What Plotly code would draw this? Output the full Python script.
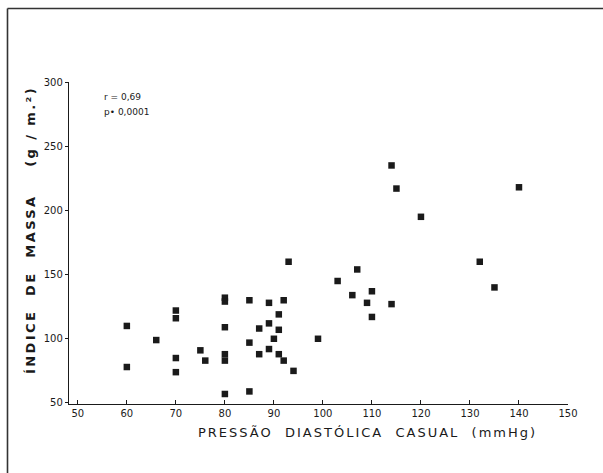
import plotly.graph_objects as go

# Data (Pressão diastólica casual x Índice de massa)
pressao = [60, 60, 66, 70, 70, 70, 70, 75, 76, 80, 80, 80, 80, 80, 80,
           85, 85, 85, 87, 87, 89, 89, 89, 90, 91, 91, 91, 92, 92, 93,
           94, 99, 103, 106, 107, 109, 110, 110, 114, 114, 115, 120, 132, 135, 140]
indice = [110, 78, 99, 122, 116, 85, 74, 91, 83, 132, 129, 109, 88, 83, 57,
          130, 97, 59, 108, 88, 128, 112, 92, 100, 119, 107, 88, 83, 130, 160,
          75, 100, 145, 134, 154, 128, 137, 117, 127, 235, 217, 195, 160, 140, 218]

x_ticks = [50, 60, 70, 80, 90, 100, 110, 120, 130, 140, 150]
y_ticks = [50, 100, 150, 200, 250, 300]

W, H = 603, 473
L, R, T, B = 69, 35, 82, 69
PW, PH = W - L - R, H - T - B

def pxx(p):
    return (p - L) / PW

def pxy(q):
    return (H - B - q) / PH

ink = "#1a1a1a"
font = "DejaVu Sans"

fig = go.Figure()
fig.add_trace(go.Scatter(
    x=pressao, y=indice, mode="markers",
    marker=dict(symbol="square", size=6.5, color=ink, line=dict(width=0)),
    showlegend=False, hoverinfo="skip",
))

fig.update_layout(
    width=W, height=H, autosize=False,
    margin=dict(l=L, r=R, t=T, b=B, pad=0),
    paper_bgcolor="white", plot_bgcolor="white",
    font=dict(family=font, color=ink),
    xaxis=dict(
        range=[48.2, 150], tickvals=x_ticks, ticktext=[str(v) for v in x_ticks],
        showline=True, linecolor=ink, linewidth=1.3,
        ticks="inside", ticklen=4, tickwidth=1.2, tickcolor=ink,
        showgrid=False, zeroline=False, tickfont=dict(size=10, family=font),
    ),
    yaxis=dict(
        range=[49.2, 300], tickvals=y_ticks, ticktext=[str(v) for v in y_ticks],
        showline=True, linecolor=ink, linewidth=1.3,
        ticks="outside", ticklen=3, tickwidth=1.2, tickcolor=ink,
        showgrid=False, zeroline=False, tickfont=dict(size=10, family=font),
    ),
)

nb = "\u00a0"
xtitle = (nb * 2).join(["PRESSÃO", "DIASTÓLICA", "CASUAL", "(mmHg)"])
ytitle = (nb * 2).join(["ÍNDICE", "DE", "MASSA", nb * 2 + "(g / m.²)"])

fig.add_annotation(
    x=pxx(367), y=pxy(433), xref="paper", yref="paper",
    xanchor="center", yanchor="middle", showarrow=False,
    text='<span style="letter-spacing:2px">' + xtitle + '</span>',
    font=dict(size=13, family=font, color=ink),
)
fig.add_annotation(
    x=pxx(30), y=pxy(230), xref="paper", yref="paper",
    xanchor="center", yanchor="middle", showarrow=False, textangle=-90,
    text='<span style="letter-spacing:2.4px"><b>' + ytitle + '</b></span>',
    font=dict(size=13, family=font, color=ink),
)
fig.add_annotation(
    x=pxx(102), y=pxy(97), xref="paper", yref="paper",
    xanchor="left", yanchor="middle", showarrow=False,
    text="r = 0,69", font=dict(size=9, family=font, color=ink),
)
fig.add_annotation(
    x=pxx(102), y=pxy(112), xref="paper", yref="paper",
    xanchor="left", yanchor="middle", showarrow=False,
    text="p• 0,0001", font=dict(size=9, family=font, color=ink),
)

# page frame (top and left border of the scanned figure)
fig.add_shape(type="line", xref="paper", yref="paper",
              x0=pxx(7.5), y0=pxy(8.5), x1=pxx(603), y1=pxy(8.5),
              line=dict(color="#333333", width=1.6))
fig.add_shape(type="line", xref="paper", yref="paper",
              x0=pxx(7.5), y0=pxy(8.5), x1=pxx(7.5), y1=pxy(473),
              line=dict(color="#333333", width=1.6))

# remove the browser's default 8px page margin so the figure sits at the window origin
fig.write_html("out.html",
               config={"displayModeBar": False},
               post_script="document.body.style.margin='0';document.body.style.overflow='hidden';")
